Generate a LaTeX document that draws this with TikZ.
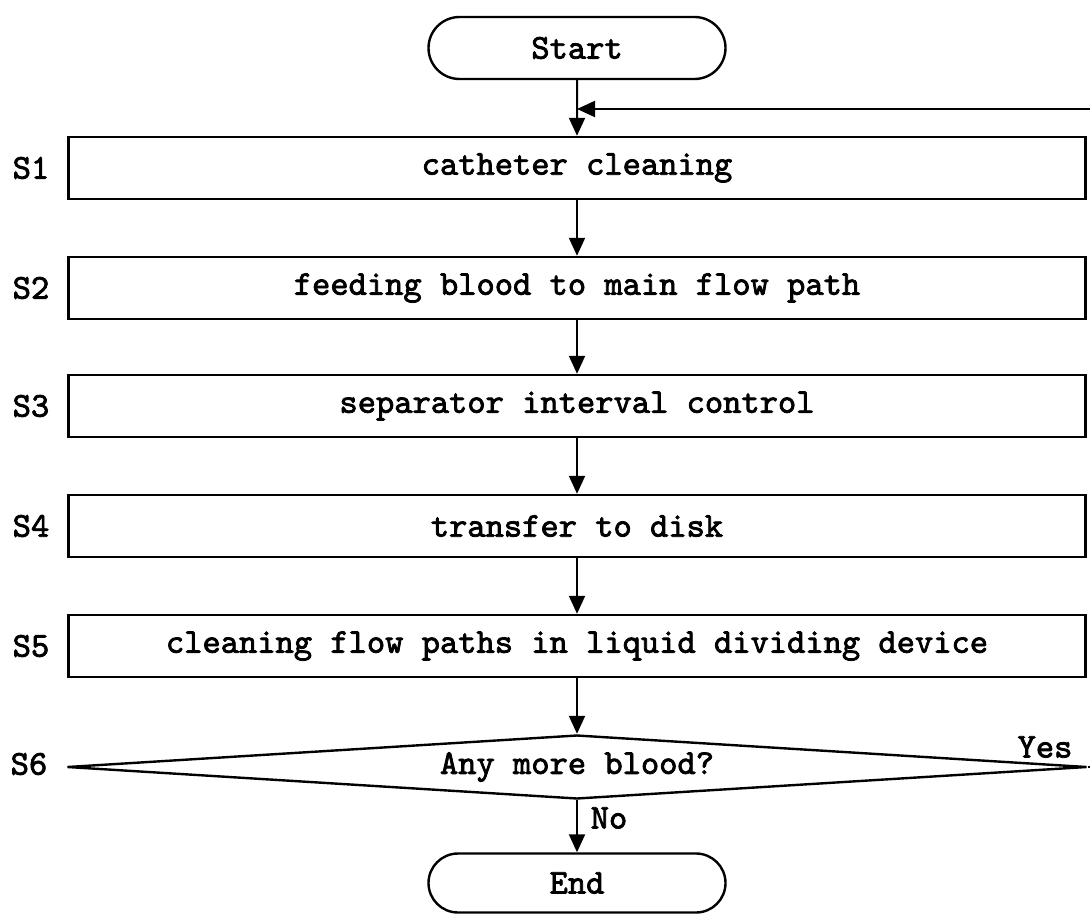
\documentclass[tikz,border=0pt]{standalone}
\usepackage{fontspec}
\newfontfamily\cour{lmmono10-regular.otf}[AutoFakeBold=2.2]
\usetikzlibrary{arrows.meta,shapes.geometric,shapes.misc}
\begin{document}
\begin{tikzpicture}[x=0.5pt,y=-0.5pt,
  every node/.style={font=\cour\bfseries\fontsize{17.4}{20}\selectfont},
  box/.style={draw, line width=1.2pt, minimum width=508.5pt, minimum height=31pt, inner sep=0pt},
  term/.style={draw, line width=1.2pt, rounded rectangle, minimum width=148.5pt, minimum height=31pt, inner sep=0pt},
  dec/.style={draw, diamond, shape aspect=16, inner sep=0pt, minimum width=510pt, minimum height=32pt, line width=1.2pt},
  lab/.style={anchor=center},
  arr/.style={line width=1pt, -{Triangle[length=9pt,width=8pt]}}]
\useasboundingbox (0,0) rectangle (1090,914);
\clip (0,0) rectangle (1090,914);

\node[term] (start) at (577,48) {Start};
\node[box] (s1) at (577,168) {catheter cleaning};
\node[box] (s2) at (577,288) {feeding blood to main flow path};
\node[box] (s3) at (577,406) {separator interval control};
\node[box] (s4) at (577,526) {transfer to disk};
\node[box] (s5) at (577,646) {cleaning flow paths in liquid dividing device};
\node[dec] (d) at (577,767) {Any more blood?};
\node[term, minimum height=29.5pt] (end) at (577,883) {End};

\node[lab] (l1) at (31,168) {S1};
\node[lab] (l2) at (31,288) {S2};
\node[lab] (l3) at (31,406) {S3};
\node[lab] (l4) at (31,526) {S4};
\node[lab] (l5) at (31,646) {S5};
\node[lab] (l6) at (29,764) {S6};
\node[lab] (yes) at (1045,747) {Yes};
\node[lab] (no) at (609,818) {No};

\coordinate (j) at (577,109);
\coordinate (rc) at (1100,767);

\draw[arr] (start) -- (s1);
\draw[arr] (s1) -- (s2);
\draw[arr] (s2) -- (s3);
\draw[arr] (s3) -- (s4);
\draw[arr] (s4) -- (s5);
\draw[arr] (s5) -- (d);
\draw[arr] (d) -- (end);
\draw[arr] (d.east) -- (rc) |- (j);
\end{tikzpicture}
\end{document}
